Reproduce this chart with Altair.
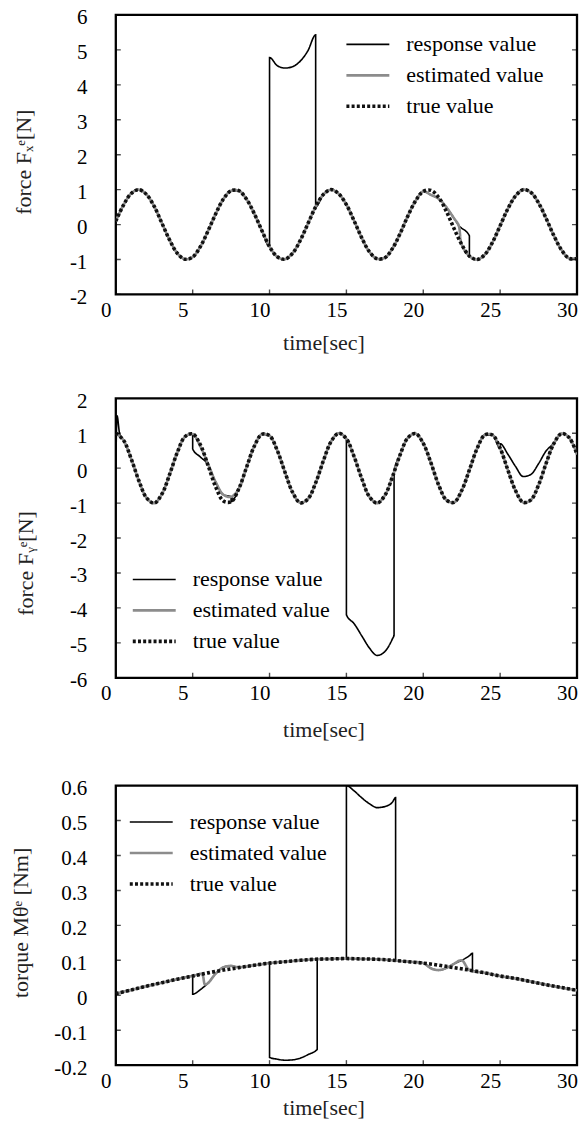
import altair as alt
import pandas as pd

FONT = "Liberation Serif"
SERIES = ["response value", "estimated value", "true value"]
XTICKS = [0, 5, 10, 15, 20, 25, 30]

# ---------------- panel 1 : force Fx ----------------
FX_T = [i / 2 for i in range(61)]
FX_TRUE = [0.10, 0.56, 0.89, 1.00, 0.86, 0.52, 0.04, -0.44, -0.82, -0.99,
           -0.93, -0.63, -0.18, 0.31, 0.73, 0.97, 0.97, 0.73, 0.32, -0.17,
           -0.63, -0.92, -0.99, -0.82, -0.45, 0.03, 0.51, 0.86, 1.00, 0.88,
           0.57, 0.11, -0.38, -0.78, -0.98, -0.95, -0.68, -0.25, 0.25, 0.68,
           0.95, 0.98, 0.78, 0.38, -0.11, -0.57, -0.90, -1.00, -0.86, -0.51,
           -0.03, 0.45, 0.82, 1.00, 0.92, 0.62, 0.17, -0.32, -0.73, -0.97,
           -0.97]
FX_RESP_W1_T = [10.0, 10.0, 10.5, 11.0, 11.5, 12.0, 12.5, 13.0, 13.0]
FX_RESP_W1_V = [-0.63, 4.78, 4.55, 4.48, 4.52, 4.68, 4.98, 5.43, 0.51]
FX_RESP_W2_T = [20.0, 20.5, 21.0, 21.5, 22.0, 22.3, 23.0, 23.0]
FX_RESP_W2_V = [0.95, 0.85, 0.74, 0.50, 0.18, -0.02, -0.32, -0.90]
FX_EST_W2_T = [20.0, 20.5, 21.0, 21.5, 22.0, 22.3]
FX_EST_W2_V = [0.95, 0.85, 0.74, 0.50, 0.18, -0.02]

# ---------------- panel 2 : force Fy ----------------
FY_T = [i / 2 for i in range(61)]
FY_TRUE = [1.00, 0.80, 0.27, -0.36, -0.85, -1.00, -0.74, -0.18, 0.45, 0.90,
           0.98, 0.67, 0.08, -0.54, -0.94, -0.96, -0.59, 0.02, 0.62, 0.97,
           0.93, 0.51, -0.11, -0.69, -0.99, -0.88, -0.42, 0.21, 0.76, 1.00,
           0.84, 0.33, -0.30, -0.82, -1.00, -0.78, -0.24, 0.39, 0.87, 0.99,
           0.71, 0.15, -0.48, -0.91, -0.98, -0.64, -0.05, 0.56, 0.95, 0.95,
           0.57, -0.05, -0.64, -0.98, -0.91, -0.48, 0.15, 0.71, 0.99, 0.87,
           0.39]
FY_RESP_W0_T = [0.0, 0.08, 0.25]
FY_RESP_W0_V = [0.0, 1.50, 0.98]
FY_RESP_W1_T = [5.0, 5.0, 5.5, 6.0, 6.5, 7.0, 7.5, 7.5]
FY_RESP_W1_V = [0.98, 0.55, 0.32, 0.10, -0.40, -0.76, -0.82, -0.96]
FY_RESP_W2_T = [15.0, 15.0, 15.5, 16.0, 16.5, 17.0, 17.5, 18.0, 18.1, 18.1]
FY_RESP_W2_V = [0.84, -4.20, -4.45, -4.80, -5.15, -5.36, -5.25, -4.88, -4.78, -0.11]
FY_RESP_W3_T = [25.0, 25.0, 25.5, 26.0, 26.5, 27.0, 27.5, 28.0, 28.5]
FY_RESP_W3_V = [0.57, 0.70, 0.40, 0.05, -0.24, -0.18, 0.13, 0.50, 0.71]
FY_EST_W1_T = [5.0, 5.5, 6.0, 6.5, 7.0, 7.5, 8.0]
FY_EST_W1_V = [0.98, 0.62, 0.12, -0.40, -0.76, -0.82, -0.59]

# ---------------- panel 3 : torque M ----------------
M_T = [float(i) for i in range(31)]
M_TRUE = [0.005, 0.015, 0.026, 0.036, 0.046, 0.055, 0.064, 0.072, 0.079, 0.086,
          0.092, 0.096, 0.100, 0.103, 0.104, 0.105, 0.104, 0.103, 0.100, 0.096,
          0.092, 0.086, 0.079, 0.072, 0.064, 0.055, 0.048, 0.039, 0.030, 0.022,
          0.014]
M_RESP_W1_T = [5.0, 5.0, 5.5, 6.0, 6.5, 7.0, 7.5, 8.0]
M_RESP_W1_V = [0.055, 0.003, 0.016, 0.035, 0.062, 0.080, 0.084, 0.080]
M_RESP_W2_T = [10.0, 10.0, 10.5, 11.0, 11.5, 12.0, 12.5, 13.1, 13.1]
M_RESP_W2_V = [0.092, -0.178, -0.183, -0.186, -0.185, -0.180, -0.170, -0.155, 0.103]
M_RESP_W3_T = [15.0, 15.0, 15.5, 16.0, 16.5, 17.0, 17.5, 18.0, 18.2, 18.2]
M_RESP_W3_V = [0.105, 0.600, 0.585, 0.565, 0.548, 0.537, 0.540, 0.553, 0.566, 0.100]
M_RESP_W4_T = [20.0, 20.5, 21.0, 21.5, 22.0, 22.5, 23.0, 23.2, 23.2]
M_RESP_W4_V = [0.092, 0.077, 0.072, 0.078, 0.090, 0.100, 0.113, 0.120, 0.071]
M_EST_W1_T = [5.6, 5.8, 6.0, 6.5, 7.0, 7.5, 8.0]
M_EST_W1_V = [0.060, 0.031, 0.035, 0.062, 0.080, 0.084, 0.080]
M_EST_W4_T = [20.0, 20.5, 21.0, 21.5, 22.0, 22.5, 23.0]
M_EST_W4_V = [0.092, 0.077, 0.072, 0.078, 0.090, 0.100, 0.072]

W, H = 462, 280


def splice(base_t, base_v, windows):
    spans = [(min(wt), max(wt)) for wt, _ in windows]
    pts = [(t, v) for t, v in zip(base_t, base_v)
           if not any(a <= t <= b for a, b in spans)]
    for wt, wv in windows:
        pts.extend(zip(wt, wv))
    return sorted(pts, key=lambda p: p[0])


def make_df(base_t, base_v, resp_w, est_w):
    rows = []
    for name, wins in ((SERIES[0], resp_w), (SERIES[1], est_w), (SERIES[2], [])):
        for i, (t, v) in enumerate(splice(base_t, base_v, wins)):
            rows.append({"t": t, "v": v, "series": name, "i": i})
    return pd.DataFrame(rows)


def panel(df, ydom, yticks, ytitle, tx, ty, lx, ly, xty):
    lab = "(datum.value < 0 ? '-' : '') + format(abs(datum.value), '~g')"
    xax = alt.Axis(values=XTICKS, title="time[sec]", labelPadding=5,
                   labelOffset=-10, labelFlush=False, labelOverlap=False,
                   titleX=208, titleY=xty, titleBaseline="middle")
    yax = alt.Axis(values=yticks, title=ytitle, labelExpr=lab, labelPadding=29,
                   labelOffset=3, labelFlush=False, labelOverlap=False,
                   titleX=tx, titleY=ty, titleBaseline="middle")
    leg = alt.Legend(orient="none", legendX=lx, legendY=ly, title=None,
                     symbolType="stroke", symbolSize=1849, labelOffset=15,
                     rowPadding=0, clipHeight=31, padding=0, labelLimit=400)
    xs = alt.Scale(domain=[0, 30], nice=False, zero=False)
    ys = alt.Scale(domain=ydom, nice=False, zero=False)
    base = alt.Chart(df).encode(
        x=alt.X("t:Q", scale=xs, axis=xax),
        y=alt.Y("v:Q", scale=ys, axis=yax),
        color=alt.Color("series:N", scale=alt.Scale(domain=SERIES, range=["#000000", "#8c8c8c", "#111111"]), legend=leg),
        strokeDash=alt.StrokeDash("series:N", scale=alt.Scale(domain=SERIES, range=[[1, 0], [1, 0], [3, 2.2]]), legend=leg),
        strokeWidth=alt.StrokeWidth("series:N", scale=alt.Scale(domain=SERIES, range=[1.6, 3.6, 3.0]), legend=leg),
        order=alt.Order("i:Q"),
    )
    resp = base.transform_filter(alt.datum.series == SERIES[0]).mark_line(interpolate="monotone", clip=True)
    est = base.transform_filter(alt.datum.series == SERIES[1]).mark_line(interpolate="catmull-rom", clip=True)
    tru = base.transform_filter(alt.datum.series == SERIES[2]).mark_line(interpolate="catmull-rom", clip=True, strokeCap="butt")
    ydf = pd.DataFrame({"v": yticks})
    xdf = pd.DataFrame({"t": XTICKS})
    tick_l = alt.Chart(ydf).mark_tick(orient="horizontal", size=10, thickness=1.4, color="black", clip=True).encode(
        y=alt.Y("v:Q", scale=ys, axis=yax), x=alt.XDatum(0, scale=xs, axis=xax))
    tick_r = alt.Chart(ydf).mark_tick(orient="horizontal", size=10, thickness=1.4, color="black", clip=True).encode(
        y=alt.Y("v:Q", scale=ys, axis=yax), x=alt.XDatum(30, scale=xs, axis=xax))
    tick_b = alt.Chart(xdf).mark_tick(orient="vertical", size=10, thickness=1.4, color="black", clip=True).encode(
        x=alt.X("t:Q", scale=xs, axis=xax), y=alt.YDatum(ydom[0], scale=ys, axis=yax))
    return alt.layer(resp, est, tru, tick_l, tick_r, tick_b).properties(width=W, height=H)


df1 = make_df(FX_T, FX_TRUE,
              [(FX_RESP_W1_T, FX_RESP_W1_V), (FX_RESP_W2_T, FX_RESP_W2_V)],
              [(FX_EST_W2_T, FX_EST_W2_V)])
df2 = make_df(FY_T, FY_TRUE,
              [(FY_RESP_W0_T, FY_RESP_W0_V), (FY_RESP_W1_T, FY_RESP_W1_V),
               (FY_RESP_W2_T, FY_RESP_W2_V), (FY_RESP_W3_T, FY_RESP_W3_V)],
              [(FY_EST_W1_T, FY_EST_W1_V)])
df3 = make_df(M_T, M_TRUE,
              [(M_RESP_W1_T, M_RESP_W1_V), (M_RESP_W2_T, M_RESP_W2_V),
               (M_RESP_W3_T, M_RESP_W3_V), (M_RESP_W4_T, M_RESP_W4_V)],
              [(M_EST_W1_T, M_EST_W1_V), (M_EST_W4_T, M_EST_W4_V)])

p1 = panel(df1, [-2, 6], [-2, -1, 0, 1, 2, 3, 4, 5, 6], "force Fₓᵉ[N]",
           -92, 147, 229, 14, 48)
p2 = panel(df2, [-6, 2], [-6, -5, -4, -3, -2, -1, 0, 1, 2], "force Fᵧᵉ[N]",
           -90, 165, 15, 166, 52)
p3 = panel(df3, [-0.2, 0.6], [-0.2, -0.1, 0, 0.1, 0.2, 0.3, 0.4, 0.5, 0.6],
           "torque Mθᵉ [Nm]", -95, 137, 12, 21, 42)

chart = alt.vconcat(p1, p2, p3, spacing=33).resolve_scale(
    x="independent", y="independent", color="independent",
    strokeDash="independent", strokeWidth="independent",
).properties(
    padding={"left": 0, "top": -4, "right": 0, "bottom": 0},
    background="white",
).configure_view(
    stroke="black", strokeWidth=2.3, fill="white"
).configure_axis(
    labelFont=FONT, titleFont=FONT, labelFontSize=21, titleFontSize=22,
    labelColor="black", titleColor="#222222", titleFontWeight="normal",
    grid=False, domain=False, ticks=False,
).configure_legend(
    labelFont=FONT, labelFontSize=22, labelColor="black",
)

chart.save("out.html", embed_options={"renderer": "svg", "actions": False})
